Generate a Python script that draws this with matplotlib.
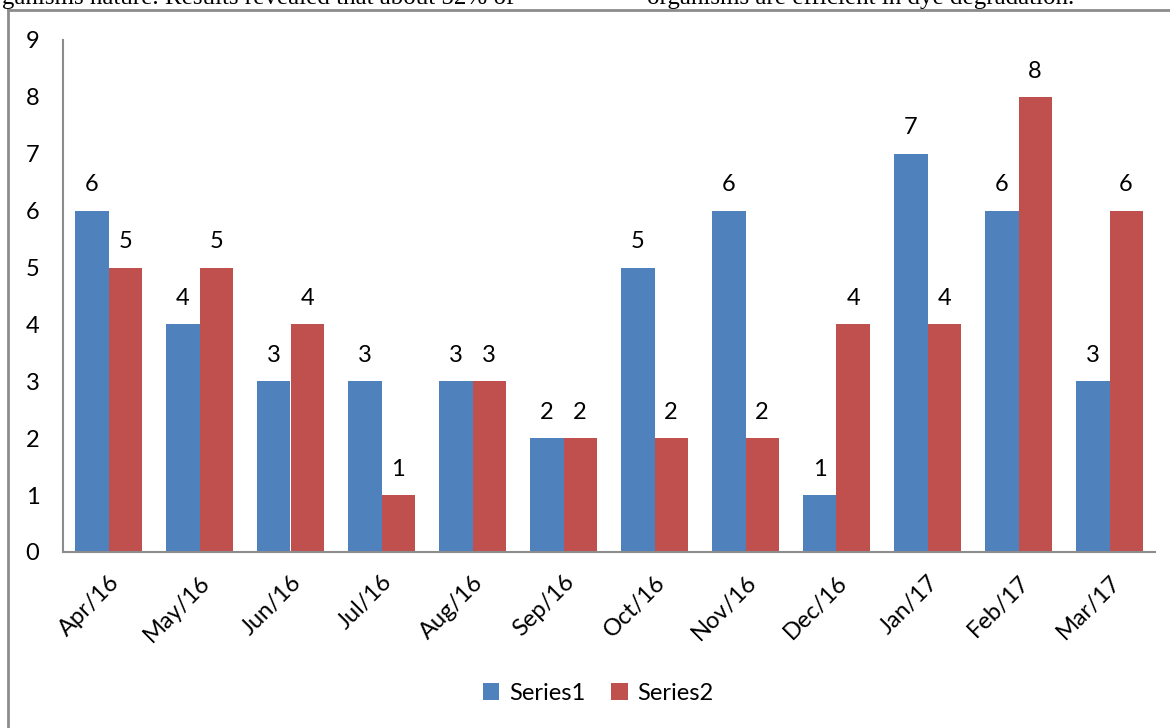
import numpy as np
import matplotlib
matplotlib.use("Agg")
import matplotlib.pyplot as plt
from matplotlib.lines import Line2D

# data
months = ["Apr/16", "May/16", "Jun/16", "Jul/16", "Aug/16", "Sep/16",
          "Oct/16", "Nov/16", "Dec/16", "Jan/17", "Feb/17", "Mar/17"]
series1 = [6, 4, 3, 3, 3, 2, 5, 6, 1, 7, 6, 3]
series2 = [5, 5, 4, 1, 3, 2, 2, 2, 4, 4, 8, 6]

blue = "#4F81BD"
red = "#C0504D"

plt.rcParams['font.family'] = ['Lato', 'DejaVu Sans']

W, H = 1170, 728
fig = plt.figure(figsize=(W / 100, H / 100), dpi=100)
ax = fig.add_axes([63 / W, 1 - 552 / H, (1155 - 63) / W, (552 - 40) / H])

x = np.arange(len(months))
bw = 0.365
b1 = ax.bar(x - bw / 2, series1, bw, color=blue, label="Series1")
b2 = ax.bar(x + bw / 2, series2, bw, color=red, label="Series2")

# value labels above the bars
for bars in (b1, b2):
    for r in bars:
        ax.annotate(str(int(r.get_height())),
                    (r.get_x() + r.get_width() / 2, r.get_height()),
                    xytext=(0, 11), textcoords="offset points",
                    ha="center", va="bottom", fontsize=17)

ax.set_xlim(-0.5, len(months) - 0.5)
ax.set_ylim(0, 9)
ax.set_yticks(range(10))
ax.set_xticks(x)
ax.set_xticklabels(months, rotation=45, ha="right", rotation_mode="anchor")
ax.tick_params(axis="both", length=0, labelsize=17)
ax.tick_params(axis="x", pad=14)
ax.tick_params(axis="y", pad=17)

for s in ("top", "right"):
    ax.spines[s].set_visible(False)
for s in ("left", "bottom"):
    ax.spines[s].set_color("#8c8c8c")
    ax.spines[s].set_linewidth(1.5)

fig.legend(handles=[b1, b2], labels=["Series1", "Series2"], loc="center",
           bbox_to_anchor=(598 / W, 1 - 693 / H), ncol=2, frameon=False,
           fontsize=17, handlelength=0.7, handleheight=0.7,
           handletextpad=0.4, columnspacing=1.1)

# outer chart frame (cut by the image edge)
fig.add_artist(Line2D([8 / W, 8 / W], [0, 1 - 10 / H], transform=fig.transFigure,
                      color="#8c8c8c", lw=2))
fig.add_artist(Line2D([8 / W, 1], [1 - 10 / H, 1 - 10 / H], transform=fig.transFigure,
                      color="#8c8c8c", lw=2))

# cropped line of paper text above the chart
fig.text(-6 / W, 1 - 4 / H, "rganisms nature. Results revealed that about 52% of",
         family="Liberation Serif", fontsize=18, va="baseline", ha="left")
fig.text(647 / W, 1 - 4 / H, "organisms are efficient in dye degradation.",
         family="Liberation Serif", fontsize=18, va="baseline", ha="left")

fig.savefig("out.png", dpi=100)
